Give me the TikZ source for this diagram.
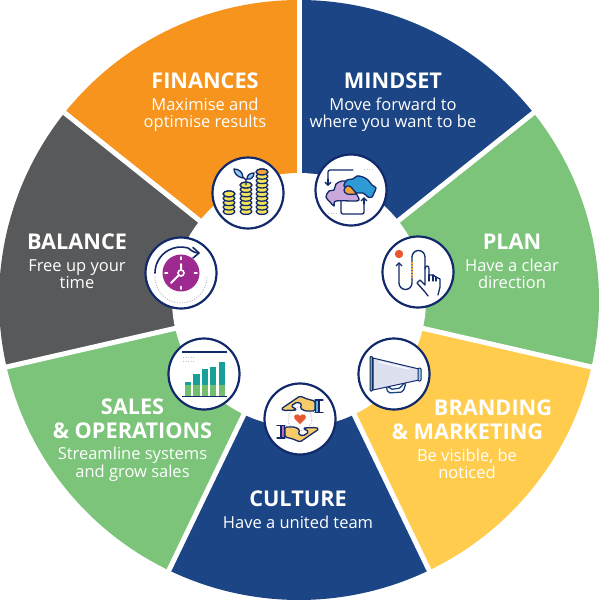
\documentclass[tikz,border=0pt]{standalone}
\usepackage{fontspec}
\setmainfont{Open Sans}
\usetikzlibrary{arrows.meta}
\definecolor{cOrange}{HTML}{F7941D}
\definecolor{cNavy}{HTML}{1B4584}
\definecolor{cGreen}{HTML}{7CC47A}
\definecolor{cYellow}{HTML}{FFCC4E}
\definecolor{cGrey}{HTML}{58595B}
\definecolor{cLine}{HTML}{12296B}
\definecolor{cCoin}{HTML}{F3E55B}
\definecolor{cTeal}{HTML}{17A09A}
\definecolor{cBarGreen}{HTML}{72BD6E}
\definecolor{cPurple}{HTML}{9C2A90}
\definecolor{cLilac}{HTML}{C9A9DB}
\definecolor{cSky}{HTML}{2E9BD6}
\definecolor{cLeaf}{HTML}{8FCBEA}
\definecolor{cRed}{HTML}{E8562F}
\definecolor{cSkin}{HTML}{F6CC6B}
\definecolor{cCone}{HTML}{DDE1EF}
\definecolor{cCuff}{HTML}{5BB5DC}
\definecolor{cAmber}{HTML}{F2A33A}
\definecolor{cDots}{HTML}{B9BCC9}
\tikzset{
  head/.style={font=\fontsize{21.7}{21.7}\selectfont\bfseries,text=white,inner sep=0pt,anchor=center},
  sub/.style={font=\fontsize{16.5}{16.5}\selectfont,text=white,inner sep=0pt,anchor=center,text height=12pt,text depth=0pt},
  gap/.style={draw=white,line width=5pt},
  badge/.style={circle,draw=cLine,fill=white,line width=2.2pt,minimum size=71pt,inner sep=0pt},
  ink/.style={draw=cLine,line width=1.3pt,line cap=round,line join=round},
  tick/.style={draw=white,line width=1.6pt,line cap=round},
  dotline/.style={draw=cDots,line width=1pt,dash pattern=on 1pt off 1.6pt},
}
\newcommand{\coinstack}[4]{%
  \foreach \k in {0,...,#3}{
    \draw[ink,fill=cCoin] (#1,{#2-\k*4.4}) ellipse[x radius=6,y radius=2.9];
  }
  \draw[ink,fill=#4] (#1,{#2-#3*4.4}) ellipse[x radius=6,y radius=2.9];
}
\newcommand{\handshape}[2]{%
  \draw[ink,fill=cSkin,rounded corners=1.5pt] (-19,-10) -- (0,-23) -- (7,-20) -- (15,-18) -- (15,-8) -- (5,-8) -- (0,-11) -- (2,-15) -- (-3,-17) -- (-9,-13) -- (-3,-9) -- (-16,-8.5) -- cycle;
  \draw[ink,fill=#1] (15.5,-19) rectangle (19,-6.5);
  \draw[ink] (15,-19) -- (23,-19) (15,-6.5) -- (23,-6.5);
}
\begin{document}
\begin{tikzpicture}[x=1pt,y=-1pt]
\useasboundingbox (0,0) rectangle (600,600);
\coordinate (c) at (299,300);
% sectors
\fill[cNavy]   (c) -- ++(90:300pt)    arc[start angle=90,end angle=38.6,radius=300pt] -- cycle;
\fill[cGreen]  (c) -- ++(38.6:300pt)  arc[start angle=38.6,end angle=-12.9,radius=300pt] -- cycle;
\fill[cYellow] (c) -- ++(-12.9:300pt) arc[start angle=-12.9,end angle=-64.3,radius=300pt] -- cycle;
\fill[cNavy]   (c) -- ++(-64.3:300pt) arc[start angle=-64.3,end angle=-115.7,radius=300pt] -- cycle;
\fill[cGreen]  (c) -- ++(-115.7:300pt) arc[start angle=-115.7,end angle=-167.1,radius=300pt] -- cycle;
\fill[cGrey]   (c) -- ++(-167.1:300pt) arc[start angle=-167.1,end angle=-218.6,radius=300pt] -- cycle;
\fill[cOrange] (c) -- ++(-218.6:300pt) arc[start angle=-218.6,end angle=-270,radius=300pt] -- cycle;
\foreach \a in {90,38.6,-12.9,-64.3,-115.7,-167.1,-218.6}
  \draw[gap] (c) -- ++(\a:305pt);
\fill[white] (c) circle[radius=127pt];
% texts
\node[head] (t1) at (205,81) {FINANCES};
\node[sub] (t1a) at (205,104) {Maximise and};
\node[sub] (t1b) at (205,121) {optimise results};
\node[head] (t2) at (393,81) {MINDSET};
\node[sub] (t2a) at (393,104) {Move forward to};
\node[sub] (t2b) at (393,121) {where you want to be};
\node[head] (t3) at (512,242) {PLAN};
\node[sub] (t3a) at (512,265) {Have a clear};
\node[sub] (t3b) at (512,282) {direction};
\node[head] (t4) at (493,408) {BRANDING};
\node[head] (t4b) at (467.5,432) {\& MARKETING};
\node[sub] (t4c) at (467,455) {Be visible, be};
\node[sub] (t4d) at (467,472) {noticed};
\node[head] (t5) at (298,499) {CULTURE};
\node[sub] (t5a) at (298,522) {Have a united team};
\node[head] (t6) at (132.5,407) {SALES};
\node[head] (t6b) at (132.5,431) {\& OPERATIONS};
\node[sub] (t6c) at (132.5,453) {Streamline systems};
\node[sub] (t6d) at (132.5,471) {and grow sales};
\node[head] (t7) at (77,242) {BALANCE};
\node[sub] (t7a) at (77,265) {Free up your};
\node[sub] (t7b) at (77,282) {time};
% badges
\node[badge] (b1) at (248,193) {};
\node[badge] (b2) at (351,190) {};
\node[badge] (b3) at (418,272) {};
\node[badge] (b4) at (394,374) {};
\node[badge] (b5) at (300,419) {};
\node[badge] (b6) at (204,374) {};
\node[badge] (b7) at (181,273) {};
% coins
\begin{scope}[shift={(b1.center)}]
  \coinstack{-19}{18.5}{4}{cCoin}
  \coinstack{-2}{18.5}{6}{cCoin}
  \coinstack{14}{18.5}{9}{cAmber}
  \draw[ink] (-2,-8) -- (-2,-13) -- (-5,-16);
  \draw[ink] (-2,-13) -- (-1,-14);
  \draw[ink,fill=cLeaf] (-5,-15) .. controls (-11,-16) and (-14,-20) .. (-14,-24) .. controls (-9,-24) and (-5,-21) .. cycle;
  \draw[ink,fill=cLeaf] (-1,-14) .. controls (-1,-18) and (2,-20) .. (6,-20) .. controls (6,-16) and (3,-13) .. cycle;
\end{scope}
% clouds
\begin{scope}[shift={(b2.center)}]
  \draw[ink,rounded corners=2pt] (2,-20) -- (-23,-20) -- (-23,-10);
  \draw[ink,-{Straight Barb[length=3pt,width=6pt]}] (-23,-11) -- (-23,-4);
  \draw[ink,rounded corners=2pt] (-10,10) -- (-10,24) -- (13,24) -- (13,12);
  \draw[ink,-{Straight Barb[length=3pt,width=6pt]}] (13,14) -- (13,7);
  \draw[ink,fill=cLilac] plot[smooth cycle,tension=.55] coordinates {(-25,7) (-22,1) (-17,0) (-15,-6) (-9,-9) (-3,-8) (2,-4) (6,5) (8,9) (5,11) (-15,11) (-17,16) (-21,12)};
  \draw[ink,fill=cSky] plot[smooth cycle,tension=.55] coordinates {(-7,-4) (-4,-10) (2,-11) (6,-14) (12,-13) (17,-10) (21,-5) (25,-2) (23,3) (21,7) (17,7) (12,3) (5,3) (-1,-2)};
  \draw[ink,fill=cAmber] plot[smooth cycle,tension=.6] coordinates {(-7,0) (-4,-4) (0,-3) (4,2) (5,4) (-4,4)};
  \draw[dotline,line width=1.2pt] (13,-20.5) -- (23,-20.5);
  \draw[dotline,line width=1.2pt] (-23,23.5) -- (-13,23.5);
\end{scope}
% plan
\begin{scope}[shift={(b3.center)}]
  \fill[cRed] (-19,-18) circle[radius=4.2pt];
  \draw[ink,{Straight Barb[length=3pt,width=6pt]}-] (-19,-10) -- (-19,11) arc[start angle=180,end angle=360,radius=6.5pt] -- (-6,-15) arc[start angle=180,end angle=0,radius=6.5pt] -- (7,-3);
  \draw[draw=cAmber,line width=1.2pt,dash pattern=on 1.5pt off 1.5pt] (-6,-10) -- (-6,6);
  \draw[ink,fill=white] (10,24) -- (7,20) -- (-1,11) -- (2,8) -- (7,13) -- (7,-3) .. controls (7,-7) and (11,-7) .. (11,-3) -- (11,3) -- (15,3) -- (18,5) -- (22,7) -- (22,15) -- (20,23);
  \draw[ink] (15,3) -- (15,9) (18,5) -- (18,9) (11,3) -- (11,9);
\end{scope}
% megaphone
\begin{scope}[shift={(b4.center)}]
  \draw[ink,draw=cNavy,fill=white,rounded corners=2pt] (-8,12) -- (-6,19) -- (9,18) -- (12,9) -- (9,9) -- (7,14) -- (-4,15.5) -- (-5,12) -- cycle;
  \draw[ink,line width=1pt,fill=cCone] (-21,-16) -- (25,-5) -- (25,6) -- (-21,16) -- cycle;
  \draw[white,line width=1pt] (-15,-12) -- (15,-5);
  \draw[ink,line width=1pt,fill=cCuff!60,rounded corners=1pt] (24,-6) -- (27,-6) -- (27,7) -- (24,7) -- cycle;
  \draw[ink,line width=1pt,fill=cBarGreen,rounded corners=.8pt] (-24,-17.5) -- (-21.5,-17.5) -- (-21.5,17) -- (-24,17) -- cycle;
\end{scope}
% hands
\begin{scope}[shift={(b5.center)}]
  \draw[dotline] (0,0) circle[radius=12pt];
  \fill[cRed] (0,5) -- (-5.5,-.5) .. controls (-7.5,-4) and (-2,-6.5) .. (0,-3) .. controls (2,-6.5) and (7.5,-4) .. (5.5,-.5) -- cycle;
  \handshape{cCuff}{}
  \begin{scope}[rotate=180]
    \handshape{cPurple!70}{}
  \end{scope}
\end{scope}
% bars
\begin{scope}[shift={(b6.center)}]
  \draw[cLine,line width=1.2pt] (-22,-22) -- (23,-22);
  \foreach \x/\w/\t in {-19.3/6.6/7.7,-11/6.7/0,-2.3/6.3/-4.7,6/6.3/-6.7,14.7/6/-12.3}{
    \fill[cTeal] (\x,\t) rectangle ++(\w,{11-\t});
    \fill[cBarGreen] (\x,11) rectangle ++(\w,11.5);
  }
  \draw[cLine,line width=1.2pt] (-22,22.7) -- (23,22.7);
  \draw[dotline] (-21,-17) -- (-9,-17);
  \draw[dotline] (-21,-13) -- (-9,-13);
\end{scope}
% clock
\begin{scope}[shift={(b7.center)}]
  \fill[cPurple] (0,0) circle[radius=18.5pt];
  \foreach \a in {0,90,180,270}
    \draw[tick] (\a:13.5pt) -- (\a:16pt);
  \draw[white,line width=2pt,line cap=round] (0,-3) -- (0,-9) (-2,2) -- (-10,10);
  \draw[white,line width=1.6pt] (0,0) circle[radius=3pt];
  \draw[ink,line width=1.6pt] (-26,0) arc[start angle=180,end angle=75,radius=26pt] .. controls (8,-25) and (11,-20.5) .. (17,-20);
  \draw[ink,line width=1.6pt] (12,-25.5) -- (18,-20) -- (12,-15);
  \draw[dotline] (-26,4) arc[start angle=180,end angle=360,radius=26pt];
\end{scope}
\end{tikzpicture}
\end{document}
